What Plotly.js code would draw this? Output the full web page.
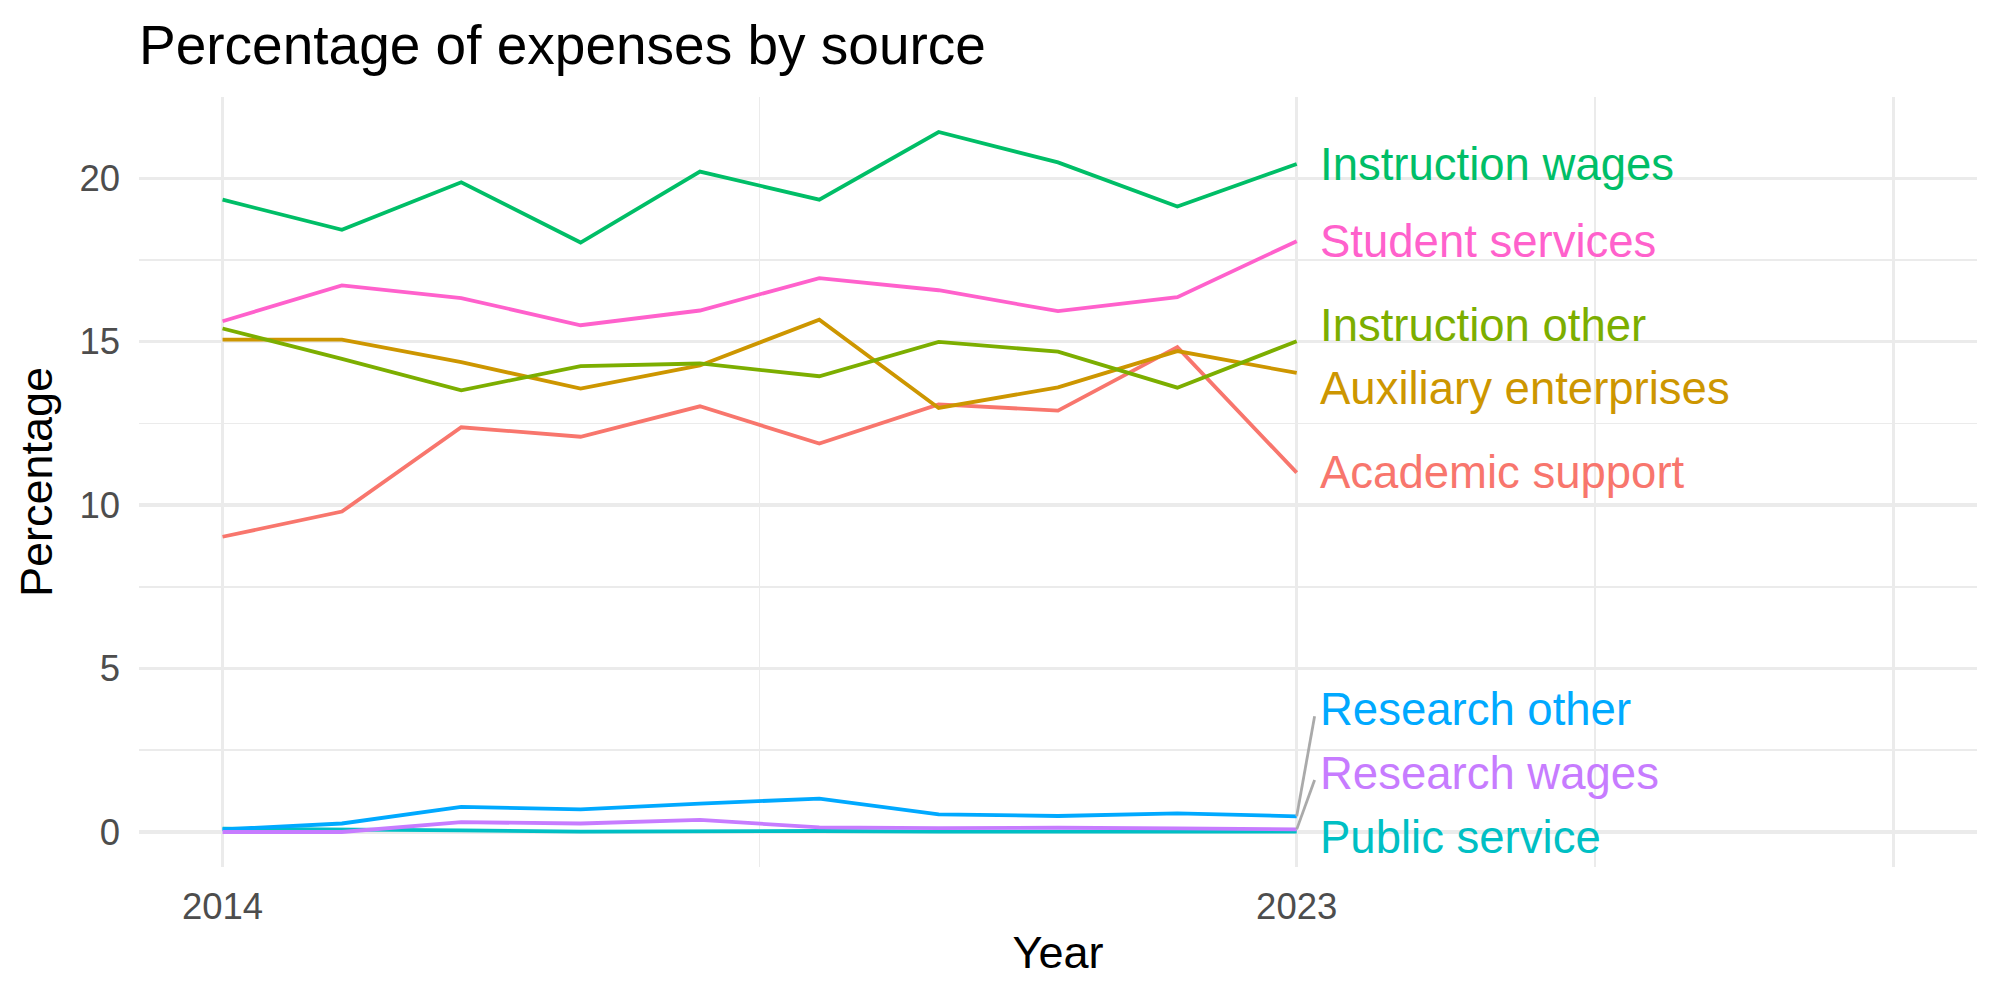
<!DOCTYPE html>
<html>
<head>
<meta charset="utf-8">
<script src="https://cdn.plot.ly/plotly-3.0.1.min.js"></script>
<style>html,body{margin:0;padding:0;background:#fff;}#chart{width:2000px;height:1000px;}</style>
</head>
<body>
<div id="chart"></div>
<script>
// ---- data ----
const years = [2014, 2015, 2016, 2017, 2018, 2019, 2020, 2021, 2022, 2023];
const academicSupport      = [9.03, 9.80, 12.38, 12.09, 13.02, 11.88, 13.08, 12.89, 14.83, 10.99];
const auxiliaryEnterprises = [15.06, 15.06, 14.37, 13.56, 14.27, 15.67, 12.97, 13.60, 14.71, 14.04];
const instructionOther     = [15.40, 14.47, 13.51, 14.25, 14.33, 13.94, 14.99, 14.69, 13.59, 15.01];
const instructionWages     = [19.34, 18.42, 19.87, 18.03, 20.20, 19.34, 21.41, 20.48, 19.13, 20.43];
const publicService        = [0.10, 0.08, 0.05, 0.01, 0.02, 0.03, 0.01, 0.01, 0.01, 0.01];
const researchOther        = [0.08, 0.26, 0.77, 0.69, 0.87, 1.02, 0.54, 0.49, 0.57, 0.48];
const researchWages        = [0.00, 0.00, 0.30, 0.26, 0.37, 0.14, 0.12, 0.13, 0.11, 0.08];
const studentServices      = [15.62, 16.72, 16.33, 15.50, 15.95, 16.94, 16.57, 15.93, 16.36, 18.07];

const seriesNames = ["Academic support", "Auxiliary enterprises", "Instruction other", "Instruction wages",
                     "Public service", "Research other", "Research wages", "Student services"];
const seriesValues = [academicSupport, auxiliaryEnterprises, instructionOther, instructionWages,
                      publicService, researchOther, researchWages, studentServices];
const xTickVals = [2014, 2023, 2028];
const xTickText = ["2014", "2023", ""];

// ---- styles ----
const colors = ["#F8766D", "#CD9600", "#7CAE00", "#00BE67", "#00BFC4", "#00A9FF", "#C77CFF", "#FF61CC"];
const FONT = "Liberation Sans, Arial, Helvetica, sans-serif";

// y range: data range expanded by 5%
const allVals = seriesValues.flat();
const yMin = Math.min(...allVals), yMax = Math.max(...allVals);
const ySpan = yMax - yMin;
const yRange = [yMin - 0.05 * ySpan, yMax + 0.05 * ySpan];
const xLo = Math.min(...xTickVals), xHi = Math.max(...xTickVals);
const xRange = [xLo - 0.05 * (xHi - xLo), xHi + 0.05 * (xHi - xLo)];

// simple label repel (vertical only)
const lastIdx = years.length - 1;
const lastYear = years[lastIdx];
const ends = seriesValues.map(v => v[lastIdx]);
const gap = 1.95, half = 0.91;
const floorY = yRange[0] + half, ceilY = yRange[1] - half;
let labelY = ends.slice();
const order = ends.map((v, i) => i).sort((a, b) => ends[a] - ends[b]);
for (let it = 0; it < 500; it++) {
  for (let k = 0; k < order.length - 1; k++) {
    const lo = order[k], hi = order[k + 1];
    const d = labelY[hi] - labelY[lo];
    if (d < gap) {
      const push = (gap - d) / 2;
      labelY[hi] += push; labelY[lo] -= push;
    }
  }
  for (let i = 0; i < labelY.length; i++) {
    labelY[i] = Math.max(floorY, Math.min(ceilY, labelY[i]));
  }
}

const traces = [];
seriesNames.forEach((name, i) => {
  traces.push({
    x: years, y: seriesValues[i], type: "scatter", mode: "lines", name: name,
    line: {color: colors[i], width: 3.8}, showlegend: false, hoverinfo: "skip"
  });
});
// segments for displaced labels
seriesNames.forEach((name, i) => {
  if (Math.abs(labelY[i] - ends[i]) > 1.0) {
    traces.push({
      x: [lastYear, lastYear + 0.15], y: [ends[i], labelY[i] - 0.2],
      type: "scatter", mode: "lines", line: {color: "#AAAAAA", width: 2.8},
      showlegend: false, hoverinfo: "skip"
    });
  }
});

const annotations = seriesNames.map((name, i) => ({
  x: lastYear + 0.18, y: labelY[i], xref: "x", yref: "y",
  text: name, showarrow: false, xanchor: "left", yanchor: "middle",
  font: {family: FONT, size: 45.5, color: colors[i]}
}));

const layout = {
  width: 2000, height: 1000,
  paper_bgcolor: "#ffffff", plot_bgcolor: "#ffffff",
  margin: {l: 139, r: 23, t: 97, b: 133},
  title: {text: "Percentage of expenses by source", x: 0, xref: "paper", xanchor: "left",
          y: 0.955, yref: "container", yanchor: "middle",
          font: {family: FONT, size: 55, color: "#000000"}},
  xaxis: {
    range: xRange, tickmode: "array", tickvals: xTickVals, ticktext: xTickText,
    showgrid: true, gridcolor: "#EBEBEB", gridwidth: 3.2, zeroline: false, showline: false,
    ticks: "", ticklabelstandoff: 14,
    tickfont: {family: FONT, size: 36.5, color: "#4D4D4D"},
    minor: {tickmode: "array", tickvals: [2018.5, 2025.5], showgrid: true, gridcolor: "#EBEBEB", gridwidth: 1.6, ticks: ""},
    title: {text: "Year", standoff: 10, font: {family: FONT, size: 45, color: "#000000"}},
    automargin: false
  },
  yaxis: {
    range: yRange, tickmode: "array", tickvals: [0, 5, 10, 15, 20],
    showgrid: true, gridcolor: "#EBEBEB", gridwidth: 3.2, zeroline: false, showline: false,
    ticks: "", ticklabelstandoff: 18,
    tickfont: {family: FONT, size: 36.5, color: "#4D4D4D"},
    minor: {tickmode: "array", tickvals: [2.5, 7.5, 12.5, 17.5], showgrid: true, gridcolor: "#EBEBEB", gridwidth: 1.6, ticks: ""},
    title: {text: "Percentage", standoff: 12, font: {family: FONT, size: 45, color: "#000000"}},
    automargin: false
  },
  annotations: annotations
};

Plotly.newPlot("chart", traces, layout, {staticPlot: true, displayModeBar: false});
</script>
</body>
</html>
